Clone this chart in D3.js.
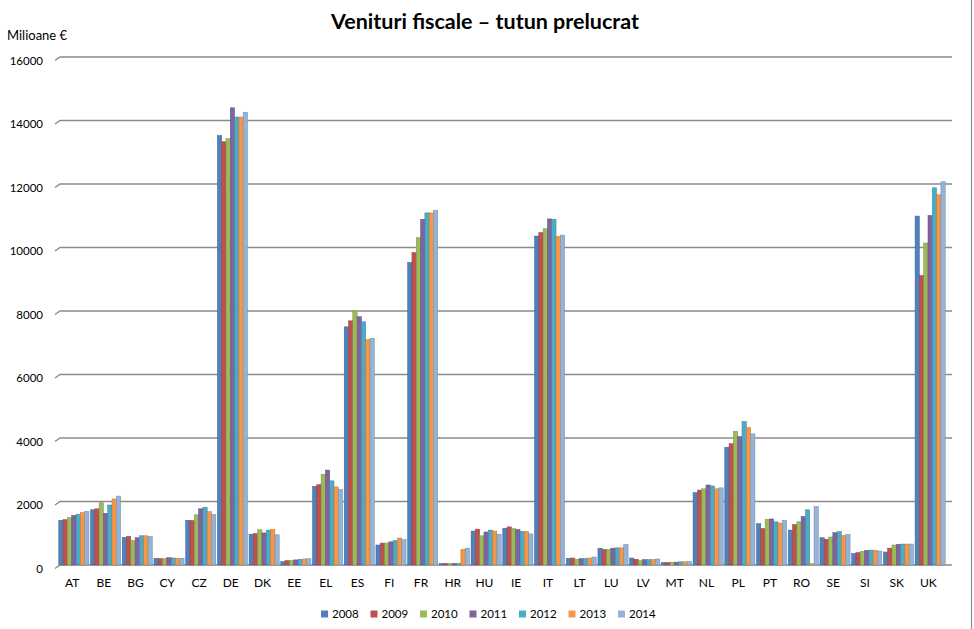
<!DOCTYPE html>
<html>
<head>
<meta charset="utf-8">
<script src="https://cdn.jsdelivr.net/npm/d3@7"></script>
<style>
html,body{margin:0;padding:0;background:#fff;}
svg{display:block;font-family:Lato,"Open Sans",sans-serif;}
</style>
</head>
<body>
<svg id="chart" width="974" height="629"></svg>
<script>
const title = "Venituri fiscale – tutun prelucrat";
const unitLabel = "Milioane €";
const categories = ["AT","BE","BG","CY","CZ","DE","DK","EE","EL","ES","FI","FR","HR","HU","IE","IT","LT","LU","LV","MT","NL","PL","PT","RO","SE","SI","SK","UK"];
const years = ["2008","2009","2010","2011","2012","2013","2014"];
const yTicks = [0,2000,4000,6000,8000,10000,12000,14000,16000];
const colors = ["#4F81BD","#C0504D","#9BBB59","#8064A2","#4BACC6","#F79646","#95B3D7"];

// values per year, in category order
const v2008 = [1410,1740,870,210,1410,13530,970,110,2480,7500,630,9530,50,1070,1160,10360,210,530,220,80,2280,3710,1300,1100,860,360,410,10990];
const v2009 = [1430,1770,900,200,1400,13330,990,140,2530,7690,690,9840,50,1130,1200,10470,220,490,180,80,2360,3820,1150,1270,810,390,530,9120];
const v2010 = [1490,1960,770,200,1580,13430,1110,140,2860,8000,690,10310,50,920,1150,10590,180,490,140,90,2400,4210,1440,1360,880,430,630,10140];
const v2011 = [1560,1630,860,230,1770,14400,1010,160,2990,7820,730,10890,50,1040,1120,10900,200,530,170,90,2520,4040,1450,1530,1020,460,650,11010];
const v2012 = [1600,1890,920,220,1820,14110,1100,180,2650,7660,770,11090,50,1100,1060,10890,210,540,170,100,2490,4520,1360,1740,1050,470,660,11880];
const v2013 = [1650,2080,920,210,1680,14110,1120,190,2460,7100,850,11090,490,1070,1060,10350,220,540,170,100,2400,4330,1320,40,930,460,660,11660];
const v2014 = [1690,2170,900,210,1590,14260,950,200,2380,7140,800,11170,530,970,980,10390,250,650,190,110,2430,4130,1410,1840,960,440,660,12070];
const series = [v2008,v2009,v2010,v2011,v2012,v2013,v2014];

const svg = d3.select("#chart");

const y = d3.scaleLinear().domain([0,16000]).range([565,57]);
const x0 = d3.scaleBand().domain(categories).range([58,946]).paddingInner(0.05).paddingOuter(0.025);
const x1 = d3.scaleBand().domain(years).range([0,x0.bandwidth()]);

// title
svg.append("text").attr("x",485).attr("y",29).attr("text-anchor","middle")
  .attr("font-size",21.5).attr("font-weight","bold").attr("fill","#000").text(title);
svg.append("text").attr("x",7).attr("y",40).attr("font-size",13).attr("fill","#000").text(unitLabel);

// right border of chart area
svg.append("line").attr("x1",971.5).attr("x2",971.5).attr("y1",0).attr("y2",629)
  .attr("stroke","#8c8c8c").attr("stroke-width",1.2);

// gridlines
const grid = svg.append("g");
yTicks.forEach(t => {
  const yy = y(t);
  grid.append("path").attr("d",`M55,${yy+3.5}L60,${yy}L952,${yy}`)
    .attr("fill","none").attr("stroke","#8a8a8a").attr("stroke-width",1.4);
  grid.append("text").attr("x",43).attr("y",yy+3.5).attr("dy","0.35em")
    .attr("text-anchor","end").attr("font-size",11.5).attr("fill","#000").text(t);
});

// bars
const gBars = svg.append("g");
categories.forEach((c,i) => {
  const g = gBars.append("g").attr("transform",`translate(${x0(c)},0)`);
  years.forEach((yr,k) => {
    const v = series[k][i];
    const col = d3.color(colors[k]);
    g.append("rect")
      .attr("x",x1(yr)).attr("width",x1.bandwidth())
      .attr("y",y(v)).attr("height",y(0)-y(v))
      .attr("fill",colors[k])
      .attr("stroke",col.darker(0.7)).attr("stroke-width",0.5);
  });
});

// category labels
svg.append("g").selectAll("text").data(categories).join("text")
  .attr("x",d => x0(d)+x0.bandwidth()/2-1.7).attr("y",583).attr("dy","0.35em")
  .attr("text-anchor","middle").attr("font-size",12).attr("fill","#000").text(d=>d);

// legend
const leg = svg.append("g");
years.forEach((yr,k) => {
  const lx = 321 + k*49.5;
  leg.append("rect").attr("x",lx).attr("y",610.5).attr("width",7).attr("height",7).attr("fill",colors[k]);
  leg.append("text").attr("x",lx+11).attr("y",614).attr("dy","0.35em")
    .attr("font-size",11.5).attr("fill","#000").text(yr);
});
</script>
</body>
</html>
